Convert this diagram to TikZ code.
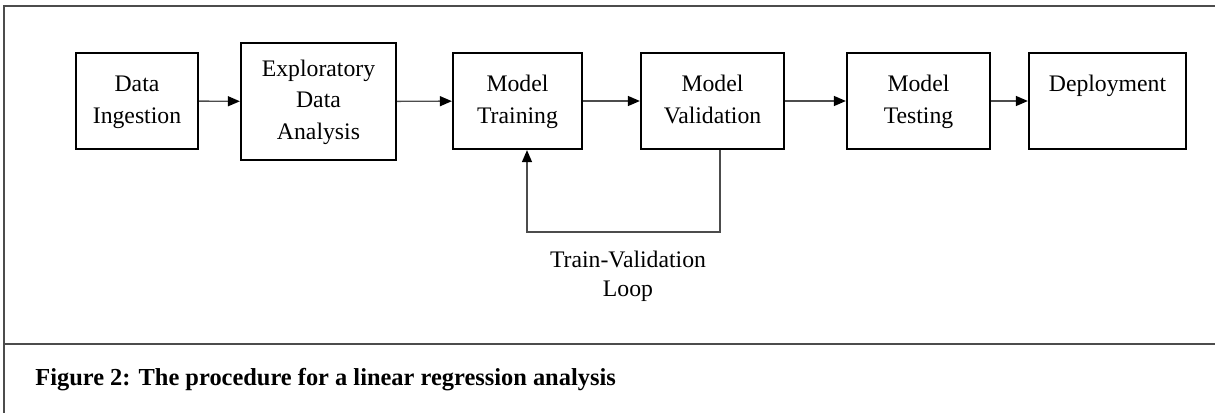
\documentclass[tikz,border=0pt]{standalone}
\usepackage{fontspec}
\setmainfont{Liberation Serif}
\usetikzlibrary{arrows.meta}
\tikzset{
  stage/.style={draw=black,line width=1.3pt,align=center,inner sep=0pt,
    minimum height=1.92cm,font=\fontsize{13.5}{18}\selectfont},
  flow/.style={draw=black!70,line width=0.8pt,-{Triangle[length=2.4mm,width=2mm,color=black]}},
  frame/.style={draw=black!70,line width=1.1pt}
}
\begin{document}
\begin{tikzpicture}[x=0.02cm,y=-0.02cm]
    \useasboundingbox (0,0) rectangle (1215,413);
    % outer frame and caption rule
    \draw[frame] (1215,6)--(4,6)--(4,413);
    \draw[frame] (4,344)--(1215,344);
    % pipeline stages
    \node[stage,minimum width=2.44cm] (ingest) at (137,101) {\strut Data\\Ingestion\strut};
    \node[stage,minimum width=3.1cm,minimum height=2.34cm] (eda) at (318.5,101.5) {\strut Exploratory\\Data\\Analysis\strut};
    \node[stage,minimum width=2.58cm] (train) at (517.5,101) {\strut Model\\Training\strut};
    \node[stage,minimum width=2.86cm] (valid) at (712.5,101) {\strut Model\\Validation\strut};
    \node[stage,minimum width=2.86cm] (test) at (918.5,101) {\strut Model\\Testing\strut};
    \node[stage,minimum width=3.14cm] (deploy) at (1107.5,101) {\strut Deployment\\\strut};
    \draw[flow] (ingest)--(eda);
    \draw[flow] (eda)--(train);
    \draw[flow] (train)--(valid);
    \draw[flow] (valid)--(test);
    \draw[flow] (test)--(deploy);
    % feedback from validation back to training
    \coordinate (loopR) at (720,232);
    \coordinate (loopL) at (527,232);
    \draw[flow] (valid.south -| loopR)--(loopR)--(loopL)--(train.south -| loopL);
    \node[align=center,font=\fontsize{13.5}{16.5}\selectfont] (looplabel) at (628,276) {Train-Validation\\Loop};
    \node[anchor=west,inner sep=0pt,font=\fontsize{13.9}{16}\selectfont\bfseries] (caption) at (35,380)
    {Figure 2: The procedure for a linear regression analysis};
\end{tikzpicture}
\end{document}
